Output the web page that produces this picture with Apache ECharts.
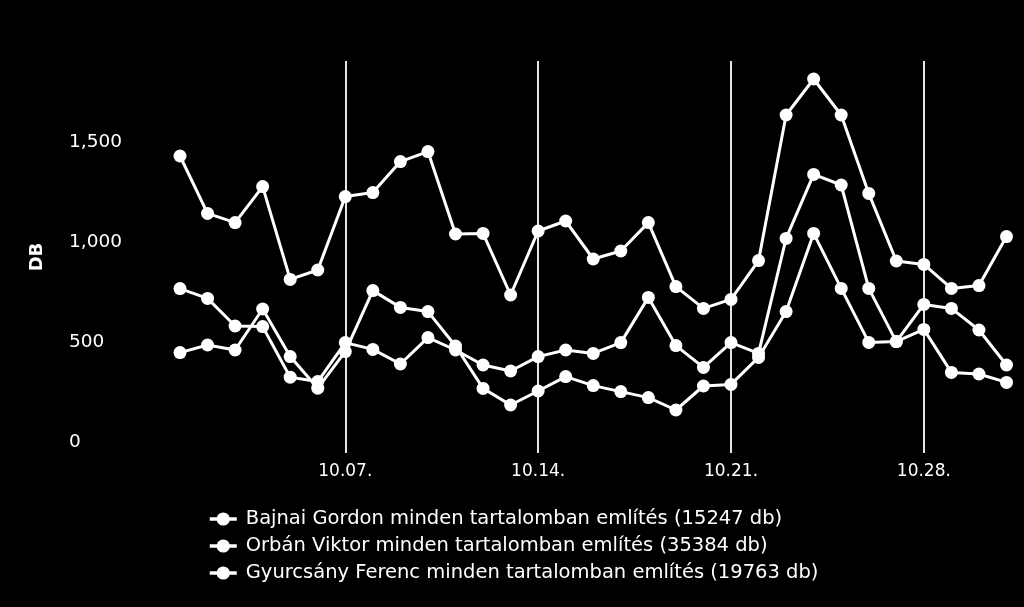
<!DOCTYPE html>
<html>
<head>
<meta charset="utf-8">
<script src="https://cdn.jsdelivr.net/npm/echarts@6/dist/echarts.min.js"></script>
<style>
html,body{margin:0;padding:0;background:#000;}
#chart{width:1024px;height:607px;}
</style>
</head>
<body>
<div id="chart"></div>
<script>
const categories = ["10.01.","10.02.","10.03.","10.04.","10.05.","10.06.","10.07.","10.08.","10.09.","10.10.","10.11.","10.12.","10.13.","10.14.","10.15.","10.16.","10.17.","10.18.","10.19.","10.20.","10.21.","10.22.","10.23.","10.24.","10.25.","10.26.","10.27.","10.28.","10.29.","10.30.","10.31."];
const labelDays = ["10.07.","10.14.","10.21.","10.28."];
const seriesNames = [
  "Bajnai Gordon minden tartalomban említés (15247 db)",
  "Orbán Viktor minden tartalomban említés (35384 db)",
  "Gyurcsány Ferenc minden tartalomban említés (19763 db)"
];
const bajnai = [502,540,515,720,482,324,507,812,728,707,535,323,240,310,382,337,307,277,215,335,343,478,707,1098,823,553,557,618,403,395,353];
const orban = [1485,1198,1152,1332,868,915,1282,1302,1457,1507,1095,1098,790,1110,1160,970,1010,1152,832,723,768,962,1690,1870,1690,1298,960,943,823,837,1082];
const gyurcsany = [822,773,635,632,379,357,552,518,445,577,515,440,410,482,515,498,552,778,537,428,552,498,1073,1393,1340,823,557,743,723,615,440];
const yTicks = [0,500,1000,1500];

const FONT = "DejaVu Sans";
const chart = echarts.init(document.getElementById('chart'), null, {renderer:'canvas'});
const showLabel = (idx, val) => labelDays.indexOf(val) >= 0;
const mk = (name, data) => ({
  name, type:'line', data,
  symbol:'circle', symbolSize:13,
  lineStyle:{color:'#fff', width:3},
  itemStyle:{color:'#fff'},
  emphasis:{disabled:true}
});
chart.setOption({
  backgroundColor:'#000',
  animation:false,
  textStyle:{fontFamily:FONT},
  grid:{left:180, right:17.5, top:61, bottom:154, containLabel:false},
  xAxis:{
    type:'category', data:categories, boundaryGap:false,
    axisLine:{show:false}, axisTick:{show:false},
    axisLabel:{color:'#fff', fontSize:17, fontFamily:FONT, margin:10, interval:showLabel},
    splitLine:{show:true, interval:showLabel, lineStyle:{color:'#e4e4e4', width:2}}
  },
  yAxis:{
    type:'value', min:0, max:1960,
    name:'DB', nameLocation:'middle', nameGap:134, nameRotate:90,
    nameTextStyle:{color:'#fff', fontSize:18, fontWeight:'bold', fontFamily:FONT},
    axisLine:{show:false}, axisTick:{show:false}, splitLine:{show:false},
    axisLabel:{
      color:'#fff', fontSize:18.5, fontFamily:FONT, align:'left', margin:111,
      verticalAlign:'middle',
      customValues: yTicks,
      formatter: v => '{a|' + v.toLocaleString('en-US') + '}\n{b|}',
      rich:{
        a:{color:'#fff', fontSize:18.5, fontFamily:FONT, lineHeight:22, height:22},
        b:{lineHeight:22, height:22}
      }
    }
  },
  legend:{
    orient:'vertical', left:203, top:504,
    itemWidth:27, itemHeight:16.5, itemGap:7,
    lineStyle:{width:3.5, color:'#fff'},
    textStyle:{color:'#fff', fontSize:19.5, fontFamily:FONT, lineHeight:20, padding:[0,0,0,4]},
    data:seriesNames
  },
  series:[mk(seriesNames[0], bajnai), mk(seriesNames[1], orban), mk(seriesNames[2], gyurcsany)]
});
</script>
</body>
</html>
